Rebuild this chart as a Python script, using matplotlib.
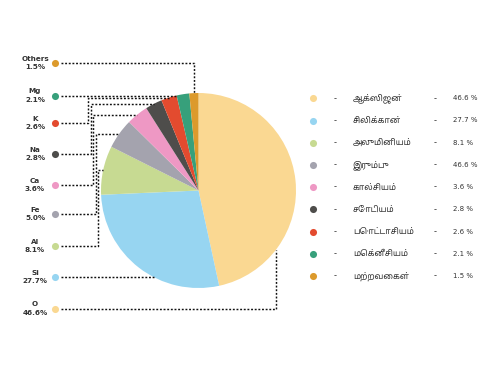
import numpy as np
import matplotlib.pyplot as plt
from matplotlib import font_manager

# data
elements = ["O", "Si", "Al", "Fe", "Ca", "Na", "K", "Mg", "Others"]
shares = [46.6, 27.7, 8.1, 5.0, 3.6, 2.8, 2.6, 2.1, 1.5]
colors = ["#FAD892", "#97D5F1", "#C7DA92", "#A4A3AE", "#EE98C4",
          "#4E4D4B", "#E34B2F", "#37A07B", "#DC9A2C"]
tamil_names = ["ஆக்ஸிஜன்", "சிலிக்கான்", "அலுமினியம்", "இரும்பு", "கால்சியம்",
               "சோடியம்", "பொட்டாசியம்", "மெக்னீசியம்", "மற்றவைகள்"]
legend_pct = ["46.6 %", "27.7 %", "8.1 %", "46.6 %", "3.6 %",
              "2.8 %", "2.6 %", "2.1 %", "1.5 %"]

installed = {f.name for f in font_manager.fontManager.ttflist}
tamil_fonts = [f for f in installed if "Tamil" in f]
fams = tamil_fonts + ["DejaVu Sans"]

W, H = 500, 375
fig = plt.figure(figsize=(5, 3.75), dpi=100)
ax = fig.add_axes([0, 0, 1, 1])

cx, cy, r = 198.5, H - 190.5, 97.5
ax.pie(shares, colors=colors, startangle=90, counterclock=False,
       center=(cx, cy), radius=r, frame=True,
       wedgeprops=dict(linewidth=0))

# mid angles of each wedge (degrees, counter-clockwise from +x)
cum = np.cumsum([0] + shares)
mid = 90 - 3.6 * (cum[:-1] + cum[1:]) / 2

# left labels (pixel rows from the top)
dot_y = [308.5, 277, 246, 214, 185, 154, 123, 95.5, 63]
elbow_x = [None, None, 98, 95.5, 93, 90.5, 88, None, None]
dot_x = 55
line_kw = dict(color="#111111", lw=1.05, ls=(0, (1.3, 1.2)), zorder=1)

def left_edge(y):
    return cx - np.sqrt(max(r**2 - (y - cy)**2, 0))

for i, name in enumerate(elements):
    yd = H - dot_y[i]
    ax.scatter(dot_x, yd, s=26, color=colors[i], zorder=3, linewidths=0)
    ax.text(35, yd + 4.3, name, ha="center", va="center", fontsize=5.2,
            color="#333333", fontweight="bold")
    ax.text(35, yd - 4.3, f"{shares[i]}%", ha="center", va="center",
            fontsize=5.2, color="#333333", fontweight="bold")
    a = np.deg2rad(mid[i])
    axp, ayp = cx + r * np.cos(a), cy + r * np.sin(a)
    x0 = dot_x + 6
    if name == "O":
        xo = 276
        ye = cy - np.sqrt(r**2 - (xo - cx)**2)
        ax.plot([x0, xo, xo], [yd, yd, ye], **line_kw)
    elif name == "Others":
        ax.plot([x0, axp, axp], [yd, yd, ayp], **line_kw)
    elif elbow_x[i] is None:
        ax.plot([x0, left_edge(yd)], [yd, yd], **line_kw)
    else:
        ex = elbow_x[i]
        ax.plot([x0, ex, ex, axp], [yd, yd, ayp, ayp], **line_kw)

# right legend
leg_y0, leg_dy = 98.3, 22.2
for i in range(len(elements)):
    y = H - (leg_y0 + i * leg_dy)
    ax.scatter(313, y, s=26, color=colors[i], zorder=3, linewidths=0)
    ax.text(335, y, "-", ha="center", va="center", fontsize=6, color="#333333")
    ax.text(353, y, tamil_names[i], ha="left", va="center", fontsize=6.0,
            color="#333333", family=fams)
    ax.text(435, y, "-", ha="center", va="center", fontsize=6, color="#333333")
    ax.text(453, y, legend_pct[i], ha="left", va="center", fontsize=5.0,
            color="#333333")

ax.set_xlim(0, W)
ax.set_ylim(0, H)
ax.set_aspect("equal")
ax.axis("off")

fig.savefig("out.png", dpi=100, facecolor="white")
